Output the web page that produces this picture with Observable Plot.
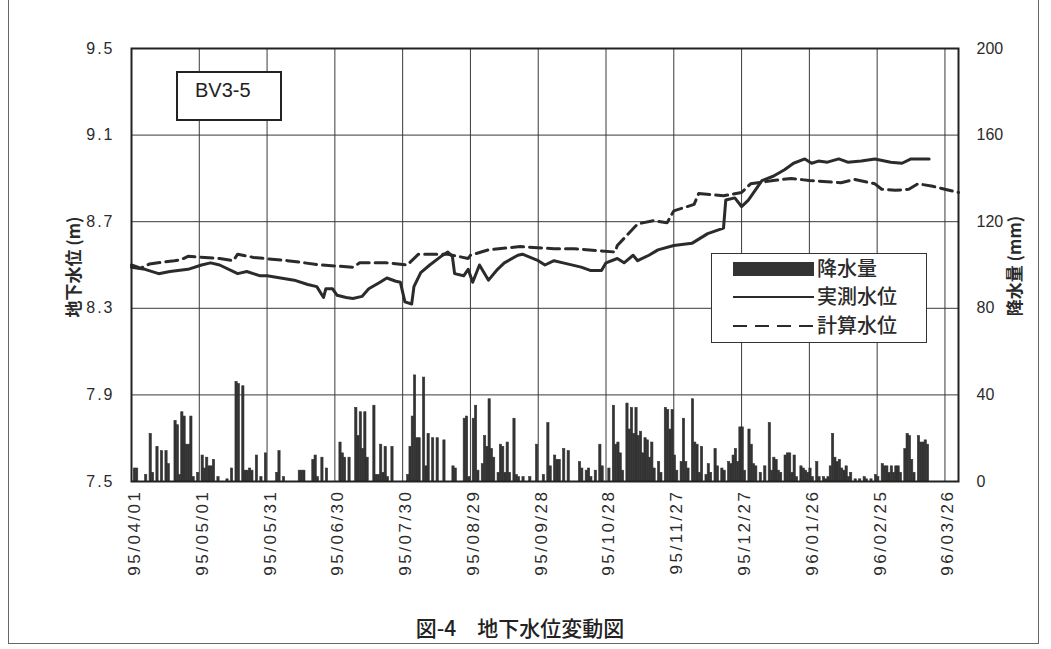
<!DOCTYPE html>
<html>
<head>
<meta charset="utf-8">
<script src="https://cdn.jsdelivr.net/npm/d3@7"></script>
<script src="https://cdn.jsdelivr.net/npm/@observablehq/plot@0.6"></script>
<style>
  html, body { margin: 0; padding: 0; background: #fff; }
  #wrap { position: relative; width: 1051px; height: 649px; overflow: hidden; background: #fff;
          font-family: "Liberation Sans", Arial, sans-serif; color: #222; }
  #chart { position: absolute; left: 0; top: 0; }
  .jp { font-family: "Noto Sans CJK JP", "Noto Sans", sans-serif; }
  #docframe { position: absolute; left: 8px; top: -4px; width: 1031px; height: 648px;
              border: 1.5px solid #666; box-sizing: border-box; }
  .ytitle { position: absolute; transform: translate(-50%, -50%) rotate(-90deg);
            white-space: nowrap; font-size: 17px; font-weight: 700; color: #2a2a2a; }
  #station { position: absolute; left: 176px; top: 71px; width: 106px; height: 50px;
             border: 2px solid #222; box-sizing: border-box; background: #fff;
             font-size: 20px; }
  #station span { position: absolute; left: 17px; top: 6px; }
  #legend { position: absolute; left: 711px; top: 253px; width: 216px; height: 90px;
            border: 1.5px solid #333; box-sizing: border-box; background: #fff; }
  #caption { position: absolute; left: 0; top: 612px; width: 1040px; text-align: center;
             font-size: 21px; font-weight: 500; color: #222; }
</style>
</head>
<body>
<div id="wrap">
  <div id="docframe"></div>
  <div id="chart"></div>
  <div class="ytitle jp" style="left:72px; top:267px;">地下水位 (m)</div>
  <div class="ytitle jp" style="left:1013px; top:266px;">降水量 (mm)</div>
  <div id="station"><span>BV3-5</span></div>
  <div id="legend"></div>
  <div id="caption" class="jp">図-4　地下水位変動図</div>
</div>
<script>
// ---- axis ticks ----
const levelTicks = [7.5, 7.9, 8.3, 8.7, 9.1, 9.5];
const rainTicks = [0, 40, 80, 120, 160, 200];
const dateTicks = ["1995-04-01","1995-05-01","1995-05-31","1995-06-30","1995-07-30","1995-08-29",
  "1995-09-28","1995-10-28","1995-11-27","1995-12-27","1996-01-26","1996-02-25","1996-03-26"];
const xDomain = ["1995-04-01", "1996-04-01"];

// ---- measured groundwater level (実測水位), m ----
const measuredDates = ["1995-04-01","1995-04-07","1995-04-13","1995-04-18","1995-04-26","1995-05-02",
  "1995-05-06","1995-05-10","1995-05-18","1995-05-22","1995-05-28","1995-05-31","1995-06-06",
  "1995-06-12","1995-06-18","1995-06-22","1995-06-25","1995-06-26","1995-06-29","1995-07-01",
  "1995-07-05","1995-07-08","1995-07-12","1995-07-15","1995-07-20","1995-07-23","1995-07-27",
  "1995-07-29","1995-07-31","1995-08-03","1995-08-04","1995-08-07","1995-08-11","1995-08-16",
  "1995-08-19","1995-08-21","1995-08-22","1995-08-26","1995-08-28","1995-08-30","1995-09-02",
  "1995-09-06","1995-09-10","1995-09-13","1995-09-19","1995-09-21","1995-09-28","1995-10-01",
  "1995-10-05","1995-10-09","1995-10-17","1995-10-21","1995-10-26","1995-10-28","1995-11-02",
  "1995-11-05","1995-11-09","1995-11-11","1995-11-16","1995-11-20","1995-11-27","1995-12-05",
  "1995-12-12","1995-12-19","1995-12-20","1995-12-24","1995-12-27","1995-12-30","1996-01-05",
  "1996-01-10","1996-01-15","1996-01-19","1996-01-24","1996-01-27","1996-01-30","1996-02-03",
  "1996-02-08","1996-02-12","1996-02-18","1996-02-24","1996-03-02","1996-03-07","1996-03-11",
  "1996-03-19"];
const measuredLevels = [8.49,8.48,8.46,8.47,8.48,8.50,
  8.51,8.50,8.46,8.47,8.45,8.45,8.44,
  8.43,8.41,8.40,8.35,8.39,8.39,8.36,
  8.35,8.345,8.355,8.39,8.42,8.44,8.425,
  8.42,8.33,8.32,8.40,8.465,8.50,8.54,
  8.56,8.54,8.46,8.45,8.48,8.42,8.50,
  8.43,8.48,8.51,8.545,8.55,8.52,8.50,
  8.52,8.51,8.49,8.475,8.475,8.51,8.53,
  8.51,8.545,8.52,8.545,8.57,8.59,8.60,
  8.645,8.67,8.80,8.81,8.77,8.80,8.89,
  8.91,8.94,8.97,8.99,8.97,8.98,8.975,
  8.99,8.975,8.98,8.99,8.975,8.97,8.99,
  8.99];

// ---- computed groundwater level (計算水位), m ----
const computedDates = ["1995-04-01","1995-04-05","1995-04-09","1995-04-20","1995-04-23","1995-04-26",
  "1995-05-10","1995-05-16","1995-05-18","1995-05-25","1995-06-09","1995-06-24","1995-07-08",
  "1995-07-11","1995-07-23","1995-08-01","1995-08-06","1995-08-19","1995-08-28","1995-08-29",
  "1995-09-06","1995-09-20","1995-10-05","1995-10-14","1995-11-01","1995-11-02","1995-11-11",
  "1995-11-18","1995-11-24","1995-11-27","1995-12-06","1995-12-08","1995-12-19","1995-12-27",
  "1995-12-31","1996-01-10","1996-01-18","1996-01-26","1996-02-09","1996-02-15","1996-02-24",
  "1996-02-27","1996-03-04","1996-03-10","1996-03-14","1996-03-20","1996-04-01"];
const computedLevels = [8.50,8.485,8.505,8.52,8.525,8.54,
  8.53,8.52,8.55,8.535,8.52,8.50,8.49,
  8.51,8.51,8.50,8.55,8.55,8.53,8.545,
  8.57,8.585,8.575,8.575,8.56,8.59,8.69,
  8.705,8.695,8.75,8.78,8.83,8.82,8.835,
  8.875,8.89,8.90,8.89,8.88,8.895,8.875,
  8.85,8.845,8.85,8.875,8.865,8.835];

// ---- daily rainfall (降水量), mm ----
const rainDates = ["1995-04-02","1995-04-03","1995-04-07","1995-04-09","1995-04-10","1995-04-12",
  "1995-04-14","1995-04-16","1995-04-17","1995-04-20","1995-04-21","1995-04-22","1995-04-23",
  "1995-04-24","1995-04-25","1995-04-26","1995-04-27","1995-04-28","1995-04-30","1995-05-02",
  "1995-05-03","1995-05-04","1995-05-05","1995-05-06","1995-05-07","1995-05-09","1995-05-13",
  "1995-05-15","1995-05-17","1995-05-18","1995-05-20","1995-05-21","1995-05-22","1995-05-23",
  "1995-05-24","1995-05-26","1995-05-28","1995-05-30","1995-06-04","1995-06-05","1995-06-07",
  "1995-06-14","1995-06-15","1995-06-16","1995-06-20","1995-06-21","1995-06-22","1995-06-24",
  "1995-06-26","1995-07-02","1995-07-03","1995-07-04","1995-07-06","1995-07-09","1995-07-10",
  "1995-07-11","1995-07-12","1995-07-13","1995-07-14","1995-07-17","1995-07-18","1995-07-19",
  "1995-07-20","1995-07-21","1995-07-22","1995-07-23","1995-07-25","1995-08-01","1995-08-02",
  "1995-08-03","1995-08-04","1995-08-05","1995-08-06","1995-08-08","1995-08-09","1995-08-10",
  "1995-08-12","1995-08-14","1995-08-17","1995-08-21","1995-08-22","1995-08-26","1995-08-27",
  "1995-08-28","1995-08-30","1995-08-31","1995-09-01","1995-09-03","1995-09-04","1995-09-05",
  "1995-09-06","1995-09-07","1995-09-08","1995-09-10","1995-09-11","1995-09-12","1995-09-13",
  "1995-09-14","1995-09-15","1995-09-17","1995-09-18","1995-09-19","1995-09-21","1995-09-24",
  "1995-09-27","1995-09-30","1995-10-02","1995-10-03","1995-10-05","1995-10-06","1995-10-07",
  "1995-10-09","1995-10-11","1995-10-16","1995-10-17","1995-10-19","1995-10-20","1995-10-21",
  "1995-10-23","1995-10-25","1995-10-26","1995-10-29","1995-10-31","1995-11-01","1995-11-02",
  "1995-11-03","1995-11-04","1995-11-06","1995-11-07","1995-11-08","1995-11-09","1995-11-10",
  "1995-11-11","1995-11-12","1995-11-13","1995-11-14","1995-11-15","1995-11-16","1995-11-17",
  "1995-11-18","1995-11-20","1995-11-21","1995-11-23","1995-11-24","1995-11-25","1995-11-26",
  "1995-11-27","1995-11-28","1995-11-30","1995-12-01","1995-12-02","1995-12-03","1995-12-05",
  "1995-12-06","1995-12-07","1995-12-08","1995-12-09","1995-12-11","1995-12-12","1995-12-13",
  "1995-12-15","1995-12-16","1995-12-18","1995-12-19","1995-12-21","1995-12-22","1995-12-23",
  "1995-12-24","1995-12-25","1995-12-26","1995-12-27","1995-12-28","1995-12-30","1995-12-31",
  "1996-01-01","1996-01-02","1996-01-04","1996-01-06","1996-01-08","1996-01-09","1996-01-10",
  "1996-01-11","1996-01-12","1996-01-13","1996-01-15","1996-01-16","1996-01-17","1996-01-18",
  "1996-01-19","1996-01-20","1996-01-22","1996-01-23","1996-01-24","1996-01-25","1996-01-26",
  "1996-01-27","1996-01-29","1996-01-30","1996-02-01","1996-02-02","1996-02-03","1996-02-04",
  "1996-02-05","1996-02-06","1996-02-07","1996-02-08","1996-02-09","1996-02-10","1996-02-11",
  "1996-02-12","1996-02-13","1996-02-15","1996-02-17","1996-02-19","1996-02-20","1996-02-22",
  "1996-02-24","1996-02-25","1996-02-27","1996-02-28","1996-02-29","1996-03-01","1996-03-02",
  "1996-03-03","1996-03-04","1996-03-05","1996-03-06","1996-03-08","1996-03-09","1996-03-10",
  "1996-03-11","1996-03-12","1996-03-14","1996-03-15","1996-03-16","1996-03-17","1996-03-18"];
const rainAmounts = [6,6,3,22,4,16,
  14,14,8,28,26,3,32,
  30,17,17,30,2,4,12,
  6,11,7,7,10,2,1,
  6,46,45,44,5,5,6,
  5,12,2,13,4,14,2,
  5,5,5,10,12,2,11,
  6,18,13,11,11,34,21,
  32,15,32,11,35,3,3,
  17,4,16,2,16,3,16,
  30,49,20,20,48,7,22,
  20,20,19,7,6,29,30,
  2,29,35,5,8,21,16,
  38,15,11,4,17,16,4,
  18,4,29,3,2,2,2,
  17,3,27,7,12,10,10,
  15,14,9,6,5,6,2,
  5,17,7,6,35,17,18,
  13,5,36,24,34,22,34,
  21,23,13,20,19,11,18,
  6,9,4,34,33,24,33,
  12,5,9,29,9,6,38,
  18,17,4,16,3,8,4,
  15,7,6,5,9,8,12,
  15,9,25,25,5,24,17,
  8,7,4,7,27,5,11,
  10,5,4,12,13,13,4,
  12,2,7,6,5,4,6,
  2,9,2,2,1,2,7,
  22,11,9,10,6,5,7,
  2,4,1,1,2,1,1,
  3,2,8,7,7,4,7,
  4,7,7,4,15,22,21,
  10,4,21,18,18,19,17];

// ---- build tables ----
const parse = d3.utcParse("%Y-%m-%d");
const measured = measuredDates.map((d, i) => ({date: parse(d), level: measuredLevels[i]}));
const computed = computedDates.map((d, i) => ({date: parse(d), level: computedLevels[i]}));
const rain = rainDates.map((d, i) => ({date: parse(d), mm: rainAmounts[i]}));
const rainToLevel = d3.scaleLinear([rainTicks[0], rainTicks[rainTicks.length - 1]],
                                   [levelTicks[0], levelTicks[levelTicks.length - 1]]);
const tickDateObjs = dateTicks.map(parse);
const fmtDate = d3.utcFormat("%y/%m/%d");
const ink = "#2b2b2b";

const chart = Plot.plot({
  width: 1051,
  height: 600,
  marginLeft: 131,
  marginRight: 93,
  marginTop: 48,
  marginBottom: 119,
  style: {background: "transparent", fontFamily: "'Liberation Sans', Arial, sans-serif", color: ink, overflow: "visible"},
  x: {type: "utc", domain: xDomain.map(parse)},
  y: {domain: [levelTicks[0], levelTicks[levelTicks.length - 1]]},
  marks: [
    Plot.gridX(tickDateObjs, {stroke: "#3a3a3a", strokeOpacity: 1, strokeWidth: 1}),
    Plot.gridY(levelTicks.slice(1, -1), {stroke: "#3a3a3a", strokeOpacity: 1, strokeWidth: 1}),
    Plot.rectY(rain, {
      x1: "date",
      x2: d => d3.utcDay.offset(d.date, 1),
      y1: () => rainToLevel(0),
      y2: d => rainToLevel(d.mm),
      fill: "#333", stroke: "#333", strokeWidth: 0.6
    }),
    Plot.line(computed, {x: "date", y: "level", stroke: ink, strokeWidth: 3, strokeDasharray: "12,6"}),
    Plot.line(measured, {x: "date", y: "level", stroke: ink, strokeWidth: 3, strokeLinejoin: "round"}),
    Plot.frame({stroke: "#222", strokeWidth: 2}),
    Plot.axisY(levelTicks, {anchor: "left", tickSize: 0, tickPadding: 17, fontSize: 16,
      tickFormat: d3.format(".1f"), label: null}),
    Plot.axisY(levelTicks, {anchor: "right", tickSize: 0, tickPadding: 18, fontSize: 16,
      tickFormat: v => String(rainTicks[levelTicks.indexOf(v)]), label: null}),
    Plot.axisX(tickDateObjs, {anchor: "bottom", tickSize: 0, tickPadding: 8, tickRotate: -90,
      fontSize: 17, dx: 3, tickFormat: fmtDate, label: null})
  ]
});
document.getElementById("chart").appendChild(chart);

// spacing like the original's typewriter-style numerals
const yLabelGroups = d3.select(chart).selectAll('g[aria-label="y-axis tick label"]').nodes();
if (yLabelGroups[0]) d3.select(yLabelGroups[0]).selectAll("text").style("letter-spacing", "2px");
d3.select(chart).selectAll('g[aria-label="x-axis tick label"] text').style("letter-spacing", "2.5px");

// ---- legend ----
const legendItems = ["降水量", "実測水位", "計算水位"];
const lg = d3.select("#legend").append("svg").attr("width", 213).attr("height", 87);
const rowsY = [15, 43, 72];
lg.append("rect").attr("x", 21).attr("y", rowsY[0] - 7).attr("width", 81).attr("height", 14).attr("fill", "#333");
lg.append("line").attr("x1", 21).attr("x2", 102).attr("y1", rowsY[1]).attr("y2", rowsY[1])
  .attr("stroke", ink).attr("stroke-width", 2);
lg.append("line").attr("x1", 21).attr("x2", 102).attr("y1", rowsY[2]).attr("y2", rowsY[2])
  .attr("stroke", ink).attr("stroke-width", 2).attr("stroke-dasharray", "14,8");
legendItems.forEach((t, i) => {
  lg.append("text").attr("x", 105).attr("y", rowsY[i]).attr("dy", "0.36em")
    .attr("font-size", 20).attr("font-weight", 500).attr("fill", ink)
    .attr("font-family", "'Noto Sans CJK JP', 'Noto Sans', sans-serif").text(t);
});
</script>
</body>
</html>
